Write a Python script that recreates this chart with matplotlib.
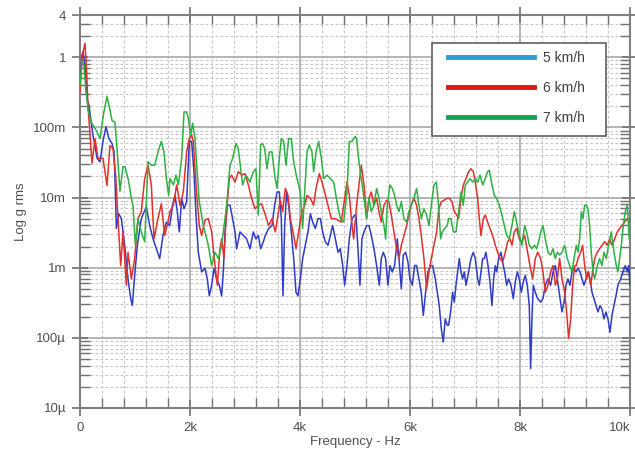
import numpy as np
import matplotlib
matplotlib.use("Agg")
import matplotlib.pyplot as plt
from matplotlib.lines import Line2D
from matplotlib.patches import Rectangle
from matplotlib.ticker import FixedLocator, NullFormatter

plt.rcParams['font.family'] = ['Liberation Sans', 'DejaVu Sans']

# ---------------- data (frequency in Hz, level as log10 of g rms) ----------------
f_5 = [0, 36, 55, 91, 127, 164, 200, 236, 273, 309, 364, 418, 473, 527, 582, 618, 640, 661, 703, 752,
       812, 873, 921, 952, 994, 1043, 1115, 1206, 1267, 1328, 1388, 1449, 1509, 1570, 1631, 1684, 1727,
       1769, 1806, 1848, 1891, 1939, 1987, 2030, 2072, 2109, 2151, 2212, 2272, 2315, 2351, 2394, 2436,
       2484, 2533, 2575, 2606, 2636, 2678, 2727, 2775, 2818, 2848, 2909, 2969, 3030, 3090, 3151, 3199,
       3242, 3284, 3333, 3370, 3430, 3491, 3539, 3582, 3624, 3660, 3691, 3721, 3757, 3794, 3842, 3885,
       3927, 3963, 4006, 4048, 4097, 4145, 4188, 4230, 4279, 4327, 4370, 4412, 4460, 4509, 4551, 4594,
       4642, 4691, 4733, 4776, 4812, 4854, 4897, 4945, 4994, 5017, 5054, 5090, 5126, 5163, 5211, 5254,
       5296, 5345, 5393, 5442, 5478, 5514, 5557, 5599, 5635, 5678, 5720, 5769, 5799, 5842, 5878, 5920,
       5963, 5999, 6042, 6084, 6120, 6163, 6205, 6241, 6284, 6326, 6375, 6411, 6460, 6496, 6532, 6569,
       6605, 6641, 6678, 6702, 6739, 6775, 6806, 6836, 6866, 6896, 6927, 6957, 6987, 7018, 7066, 7109,
       7151, 7187, 7230, 7260, 7290, 7321, 7351, 7381, 7418, 7454, 7490, 7521, 7551, 7575, 7611, 7654,
       7684, 7720, 7757, 7793, 7836, 7878, 7914, 7951, 7987, 8024, 8060, 8096, 8133, 8169, 8193, 8217,
       8242, 8278, 8321, 8375, 8418, 8460, 8509, 8557, 8600, 8642, 8678, 8721, 8763, 8800, 8836, 8872,
       8909, 8945, 8981, 9018, 9054, 9091, 9127, 9163, 9200, 9236, 9272, 9309, 9345, 9381, 9418, 9454,
       9490, 9527, 9563, 9600, 9636, 9672, 9709, 9745, 9781, 9830, 9872, 9915, 9951, 9975, 10000]
lg_5 = [-0.35, 0.03, 0.08, -0.11, -0.59, -0.69, -0.91, -1.11, -1.26, -1.44, -1.49, -1.2, -0.99, -1.16,
        -1.23, -1.34, -1.83, -2.44, -2.23, -2.3, -2.68, -3.16, -3.44, -3.54, -3.11, -2.68, -2.3, -2.13,
        -2.4, -2.59, -2.73, -2.87, -2.54, -2.35, -2.4, -2.11, -1.97, -2.2, -2.49, -2.01, -2.16, -2.06,
        -1.2, -1.2, -1.63, -2.25, -2.78, -3.06, -3.01, -3.16, -3.4, -3.25, -3.01, -3.16, -3.25, -3.4,
        -3.06, -2.49, -2.11, -2.11, -2.3, -2.49, -2.73, -2.49, -2.54, -2.59, -2.73, -2.49, -2.59, -2.54,
        -2.73, -2.63, -2.54, -2.44, -2.4, -2.11, -1.92, -1.92, -2.3, -3.4, -2.4, -1.92, -2.11, -2.49,
        -2.87, -3.35, -3.4, -3.16, -2.87, -2.68, -2.49, -2.23, -2.35, -2.44, -2.3, -2.3, -2.49, -2.63,
        -2.68, -2.54, -2.4, -2.59, -2.78, -2.73, -2.97, -3.25, -2.97, -2.59, -2.3, -2.25, -2.25, -2.73,
        -3.25, -2.59, -2.49, -2.4, -2.4, -2.54, -2.73, -2.97, -3.25, -2.87, -2.78, -2.87, -3.25, -2.97,
        -3.06, -2.97, -2.59, -2.87, -3.3, -2.82, -2.78, -2.92, -3.16, -3.25, -2.97, -2.97, -3.16, -3.35,
        -3.68, -3.35, -3.06, -2.97, -2.97, -3.16, -3.35, -3.54, -3.87, -4.06, -3.73, -3.82, -3.82, -3.63,
        -3.35, -3.49, -3.25, -3.06, -2.87, -3.06, -3.16, -3.06, -3.25, -3.06, -2.87, -2.78, -2.87, -3.16,
        -3.25, -3.06, -2.87, -2.87, -2.78, -2.97, -3.2, -3.54, -3.16, -2.97, -3.06, -2.87, -2.78, -2.92,
        -3.06, -3.25, -3.16, -3.25, -3.44, -3.2, -3.06, -3.16, -3.35, -3.2, -3.11, -3.25, -3.54, -4.44,
        -3.73, -3.25, -3.35, -3.44, -3.49, -3.44, -3.25, -3.16, -3.25, -3.06, -2.97, -3.16, -3.4, -3.63,
        -3.49, -3.25, -3.16, -3.25, -3.06, -3.01, -3.06, -3.01, -3.06, -3.16, -3.25, -3.16, -3.06, -3.16,
        -3.35, -3.44, -3.54, -3.63, -3.54, -3.59, -3.73, -3.63, -3.73, -3.92, -3.68, -3.54, -3.4, -3.25,
        -3.16, -3.06, -2.97, -3.06, -2.97, -3.25]

f_6 = [0, 36, 91, 120, 145, 182, 218, 273, 327, 418, 491, 545, 600, 650, 691, 740, 782, 843, 873, 934,
       994, 1055, 1115, 1176, 1237, 1297, 1346, 1418, 1479, 1540, 1600, 1636, 1697, 1757, 1818, 1878,
       1939, 1987, 2030, 2060, 2109, 2169, 2212, 2272, 2333, 2394, 2454, 2497, 2545, 2575, 2618, 2654,
       2715, 2757, 2818, 2878, 2939, 3000, 3060, 3121, 3181, 3242, 3303, 3370, 3430, 3491, 3551, 3600,
       3642, 3685, 3733, 3782, 3824, 3885, 3927, 3976, 4024, 4085, 4127, 4188, 4248, 4291, 4351, 4400,
       4448, 4509, 4569, 4630, 4691, 4751, 4812, 4854, 4897, 4933, 4975, 5029, 5072, 5114, 5163, 5211,
       5254, 5296, 5345, 5393, 5436, 5478, 5527, 5575, 5617, 5660, 5709, 5757, 5799, 5842, 5890, 5939,
       5981, 6023, 6072, 6120, 6163, 6205, 6254, 6302, 6345, 6387, 6436, 6484, 6526, 6569, 6617, 6678,
       6715, 6763, 6806, 6848, 6884, 6927, 6969, 7018, 7066, 7109, 7151, 7187, 7230, 7260, 7290, 7333,
       7369, 7411, 7454, 7502, 7551, 7593, 7636, 7684, 7733, 7775, 7818, 7854, 7896, 7939, 7987, 8036,
       8084, 8139, 8181, 8230, 8278, 8321, 8375, 8418, 8460, 8509, 8557, 8600, 8642, 8678, 8721, 8763,
       8812, 8848, 8884, 8921, 8957, 8993, 9024, 9054, 9103, 9139, 9175, 9212, 9248, 9284, 9321, 9357,
       9406, 9448, 9490, 9539, 9587, 9630, 9672, 9721, 9769, 9812, 9854, 9902, 9951, 10000]
lg_6 = [-0.5, -0.01, 0.2, -0.2, -0.69, -1.1, -1.51, -1.16, -1.44, -1.44, -1.83, -1.26, -1.3, -1.7, -2.3,
        -2.97, -2.49, -3.25, -2.78, -3.16, -2.87, -2.3, -2.2, -1.73, -1.54, -1.82, -2.59, -2.3, -2.09,
        -2.54, -2.35, -2.2, -2.11, -1.82, -2.11, -1.92, -1.35, -1.16, -1.11, -1.2, -1.82, -2.4, -2.54,
        -2.32, -2.3, -2.49, -2.97, -3.25, -2.73, -2.59, -2.87, -2.3, -1.73, -1.68, -1.78, -1.63, -1.68,
        -1.66, -1.82, -2.01, -2.16, -2.11, -2.09, -2.25, -2.4, -2.3, -2.49, -2.25, -2.04, -2.2, -1.87,
        -1.97, -2.3, -2.54, -2.73, -2.49, -2.25, -2.11, -1.97, -2.01, -2.11, -1.87, -1.66, -1.78, -1.92,
        -2.11, -2.3, -2.3, -2.32, -2.35, -2.01, -1.78, -1.97, -2.3, -2.59, -2.11, -1.82, -1.54, -1.82,
        -2.3, -2.01, -1.92, -2.11, -2.01, -2.2, -2.35, -2.11, -2.04, -2.06, -2.25, -2.49, -2.73, -2.87,
        -2.68, -2.54, -2.4, -2.25, -2.11, -2.01, -2.11, -2.3, -2.54, -2.87, -3.3, -3.06, -2.87, -2.68,
        -2.49, -2.16, -2.06, -2.04, -2.01, -2.01, -2.06, -2.2, -2.25, -2.3, -2.01, -1.82, -1.73, -1.63,
        -1.59, -1.63, -1.78, -2.01, -2.3, -2.54, -2.3, -2.25, -2.35, -2.44, -2.54, -2.68, -2.78, -2.87,
        -2.92, -2.78, -2.63, -2.59, -2.68, -2.49, -2.44, -2.59, -2.63, -2.54, -2.78, -2.97, -3.16, -2.87,
        -2.78, -2.87, -3.06, -3.35, -3.25, -3.06, -2.97, -3.25, -3.16, -2.87, -3.16, -3.35, -3.63, -4.01,
        -3.73, -3.25, -2.97, -2.97, -2.87, -2.78, -2.68, -2.97, -3.16, -3.06, -3.25, -3.06, -2.87, -2.78,
        -2.73, -2.68, -2.63, -2.68, -2.59, -2.68, -2.59, -2.49, -2.44, -2.4, -2.35, -2.3, -2.35]

f_7 = [0, 36, 70, 110, 150, 190, 236, 300, 364, 430, 491, 545, 582, 636, 673, 727, 782, 818, 880, 934,
       964, 1006, 1055, 1115, 1176, 1237, 1297, 1358, 1418, 1479, 1527, 1570, 1612, 1636, 1697, 1745,
       1788, 1848, 1891, 1939, 1969, 2012, 2048, 2090, 2121, 2169, 2242, 2333, 2394, 2454, 2515, 2575,
       2606, 2666, 2727, 2775, 2836, 2878, 2921, 2957, 3018, 3090, 3151, 3199, 3242, 3284, 3320, 3357,
       3400, 3442, 3491, 3539, 3582, 3624, 3660, 3703, 3745, 3794, 3842, 3885, 3945, 4006, 4048, 4085,
       4127, 4170, 4218, 4248, 4291, 4339, 4388, 4430, 4491, 4551, 4612, 4673, 4733, 4794, 4854, 4897,
       4945, 5006, 5029, 5072, 5114, 5163, 5211, 5254, 5296, 5345, 5393, 5436, 5478, 5527, 5557, 5587,
       5635, 5678, 5720, 5757, 5799, 5842, 5890, 5939, 5981, 6023, 6072, 6120, 6163, 6205, 6254, 6302,
       6345, 6387, 6436, 6478, 6520, 6557, 6587, 6629, 6678, 6702, 6745, 6787, 6836, 6884, 6927, 6969,
       7006, 7048, 7090, 7139, 7187, 7230, 7272, 7321, 7369, 7411, 7442, 7490, 7533, 7575, 7624, 7672,
       7715, 7757, 7805, 7854, 7896, 7939, 7987, 8036, 8084, 8121, 8169, 8217, 8260, 8302, 8351, 8375,
       8418, 8460, 8509, 8557, 8600, 8642, 8678, 8721, 8763, 8812, 8860, 8903, 8945, 8981, 9024, 9054,
       9084, 9115, 9145, 9175, 9206, 9236, 9266, 9296, 9327, 9357, 9406, 9448, 9490, 9527, 9569, 9612,
       9660, 9709, 9751, 9781, 9812, 9842, 9878, 9915, 9951, 9987]
lg_7 = [-0.4, -0.05, -0.1, -0.5, -0.75, -0.9, -0.97, -1.05, -1.16, -0.8, -0.56, -0.75, -0.9, -0.93, -1.3,
        -1.91, -1.56, -1.56, -1.75, -2.01, -2.11, -2.68, -2.3, -2.49, -2.63, -1.49, -1.54, -1.54, -1.35,
        -1.2, -1.35, -1.73, -1.97, -1.73, -1.82, -1.68, -1.82, -1.44, -0.78, -0.78, -0.87, -1.11, -0.94,
        -1.16, -1.54, -2.06, -2.4, -2.68, -2.97, -2.78, -2.87, -2.68, -2.49, -2.11, -1.54, -1.44, -1.23,
        -1.3, -1.59, -1.82, -1.68, -1.78, -1.63, -1.59, -2.25, -1.25, -1.23, -1.3, -1.59, -1.35, -1.35,
        -1.68, -1.87, -1.44, -1.16, -1.2, -1.54, -1.16, -1.16, -1.49, -1.73, -1.92, -2.44, -1.92, -1.35,
        -1.25, -1.35, -1.63, -1.35, -1.2, -1.44, -1.73, -1.68, -1.73, -1.78, -2.06, -2.3, -2.35, -1.92,
        -1.2, -1.2, -1.13, -1.16, -1.49, -1.73, -2.01, -2.3, -2.01, -2.2, -2.11, -1.87, -2.01, -2.2, -2.4,
        -2.59, -2.11, -1.82, -1.87, -1.97, -2.11, -2.2, -2.06, -2.3, -2.35, -2.2, -2.11, -2.01, -1.87,
        -2.11, -2.3, -2.16, -2.25, -2.4, -2.11, -1.82, -1.78, -2.11, -2.59, -2.49, -2.44, -2.4, -2.3,
        -2.3, -2.49, -2.49, -2.2, -1.92, -2.11, -1.82, -1.78, -1.73, -1.78, -1.73, -1.78, -1.68, -1.82,
        -1.73, -1.63, -1.61, -1.82, -1.97, -2.01, -2.11, -2.25, -2.4, -2.54, -2.59, -2.4, -2.2, -2.35,
        -2.54, -2.68, -2.4, -2.49, -2.68, -2.73, -2.68, -2.73, -2.59, -2.49, -2.4, -2.59, -2.78, -2.82,
        -2.73, -2.87, -2.78, -2.82, -2.78, -2.68, -2.87, -2.97, -3.06, -2.87, -2.68, -2.78, -2.59, -2.2,
        -2.3, -2.11, -2.11, -2.16, -2.4, -2.78, -3.06, -3.16, -2.97, -2.87, -2.97, -2.78, -2.87, -2.68,
        -2.49, -2.78, -2.97, -3.06, -2.87, -2.68, -2.4, -2.2, -2.11, -2.59]

series_labels = ["5 km/h", "6 km/h", "7 km/h"]
x_ticks = [0, 2000, 4000, 6000, 8000, 10000]
x_tick_labels = ["0", "2k", "4k", "6k", "8k", "10k"]
y_ticks = [1e-5, 1e-4, 1e-3, 1e-2, 1e-1, 1, 4]
y_tick_labels = ["10\u00b5", "100\u00b5", "1m", "10m", "100m", "1", "4"]

# ---------------- style ----------------
line_colors = ["#2f3cc6", "#e2302c", "#2fb043"]
legend_colors = ["#2a9ed8", "#d9161c", "#17a352"]
text_color = "#505050"

fig = plt.figure(figsize=(6.35, 4.49), dpi=100)
ax = fig.add_axes([80 / 635, 1 - 408 / 449, 550 / 635, 393 / 449])

for f, lg, c in zip([f_5, f_6, f_7], [lg_5, lg_6, lg_7], line_colors):
    ax.plot(f, 10.0 ** np.asarray(lg), color=c, lw=1.1, zorder=3)

ax.set_yscale("log")
ax.set_xlim(0, 10000)
ax.set_ylim(1e-5, 4)

# ticks
ax.xaxis.set_major_locator(FixedLocator(x_ticks))
ax.set_xticklabels(x_tick_labels)
ax.xaxis.set_minor_locator(FixedLocator(np.arange(0, 10001, 400)))
ax.yaxis.set_major_locator(FixedLocator(y_ticks))
ax.set_yticklabels(y_tick_labels)
ymin_ticks = [m * 10.0 ** e for e in range(-5, 1) for m in range(2, 10) if m * 10.0 ** e < 4]
ax.yaxis.set_minor_locator(FixedLocator(ymin_ticks))
ax.yaxis.set_minor_formatter(NullFormatter())

ax.tick_params(axis="both", which="major", direction="inout", length=12, width=1.2,
               color="#707070", labelsize=9.5, labelcolor=text_color,
               top=True, right=True)
ax.tick_params(axis="both", which="minor", direction="in", length=7, width=1.0,
               color="#707070", top=True, right=True)
ax.tick_params(axis="y", which="major", pad=4)
ax.tick_params(axis="x", which="major", pad=4)
lbls = ax.get_xticklabels()
lbls[-1].set_horizontalalignment("right")

# grid
ax.grid(True, which="major", color="#a8a8a8", lw=1.2, ls="-", zorder=0)
ax.grid(True, which="minor", color="#c4c4c4", lw=0.8, ls=(0, (2.5, 2)), zorder=0)
for sp in ax.spines.values():
    sp.set_color("#808080")
    sp.set_linewidth(1.5)

ax.set_xlabel("Frequency - Hz", fontsize=9.5, color=text_color, labelpad=1.5)
ax.set_ylabel("Log g rms", fontsize=9.5, color=text_color, labelpad=4)

# legend frame and entries
ax.add_patch(Rectangle(((432 - 80) / 550, (408 - 136) / 393), (606 - 432) / 550, (136 - 43) / 393,
                       transform=ax.transAxes, facecolor="white", edgecolor="#606060",
                       lw=1.2, zorder=5))
handles = [Line2D([], [], color=c, lw=3.5) for c in legend_colors]
leg = ax.legend(handles, series_labels, loc="upper left",
                bbox_to_anchor=((448 - 80) / 550, (408 - 51) / 393),
                borderaxespad=0, fontsize=10, handlelength=6.2, handletextpad=0.65,
                labelspacing=1.15, borderpad=0, frameon=False)
leg.set_zorder(6)
for t in leg.get_texts():
    t.set_color("#404040")

fig.savefig("out.png", dpi=100)
